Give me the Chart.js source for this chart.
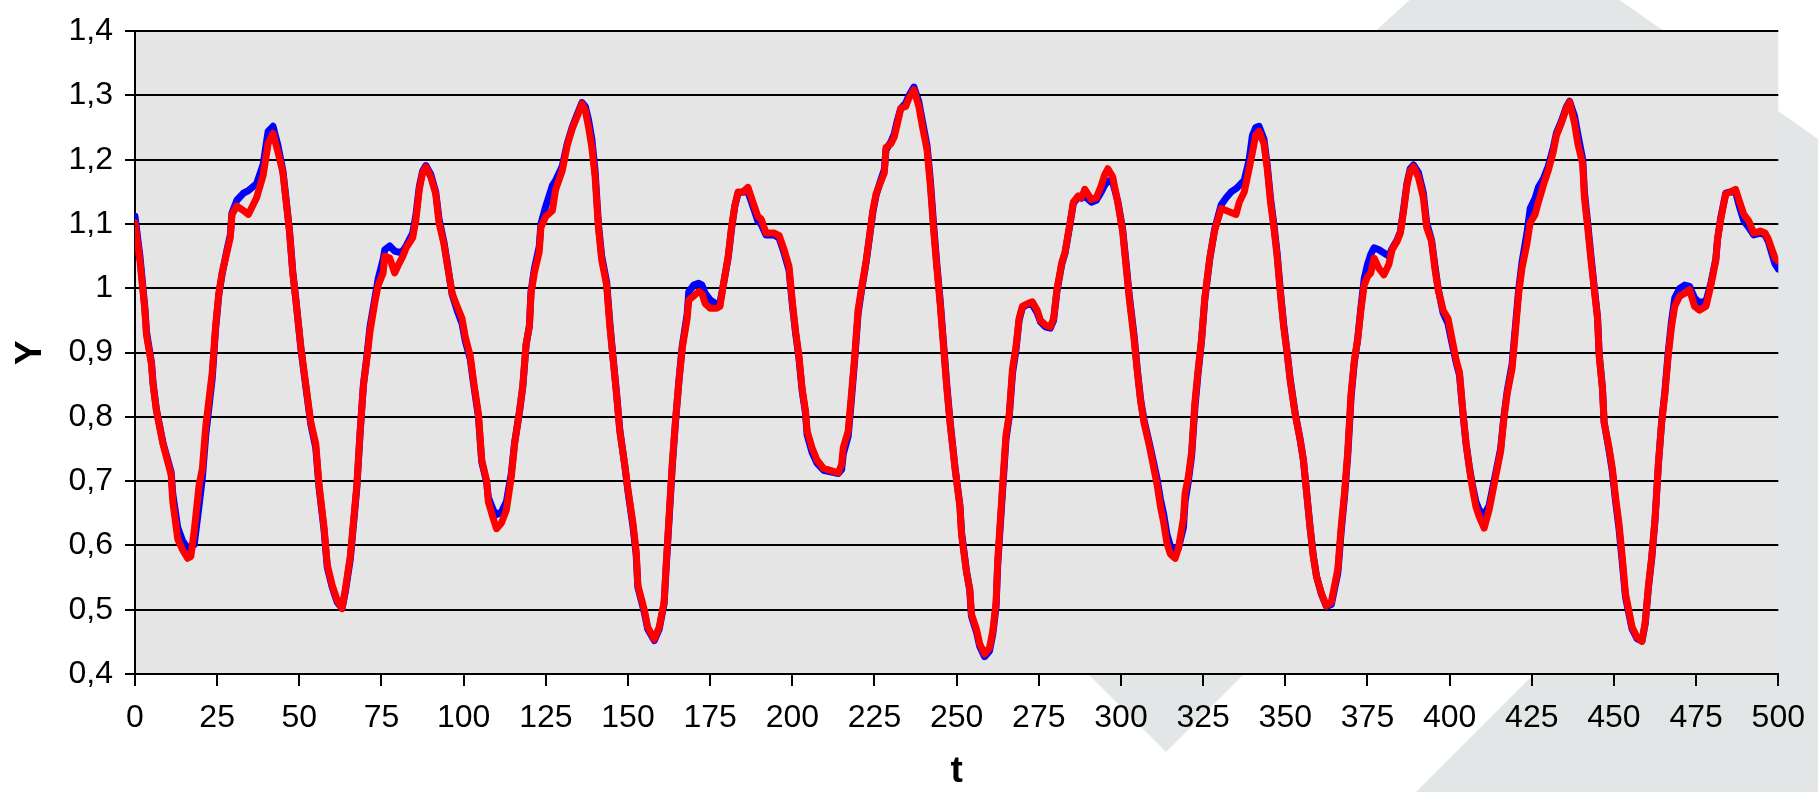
<!DOCTYPE html>
<html>
<head>
<meta charset="utf-8">
<style>
  html, body { margin: 0; padding: 0; background: #ffffff; }
  canvas { display: block; }
</style>
<script src="https://cdn.jsdelivr.net/npm/chart.js@4.4.1/dist/chart.umd.min.js"></script>
</head>
<body>
<canvas id="chart" width="1818" height="792"></canvas>
<script>
// Sample times
const t = [
  0, 1.5, 3, 3.5, 5, 5.5, 6.5, 8.5, 11, 11.5,
  13, 14.5, 16, 17, 18, 19.5, 20.5, 21.5, 23.5, 24.5,
  25.5, 26.5, 28, 29, 29.5, 31, 33, 34.5, 37, 39,
  40.5, 42, 43.5, 45, 46, 47, 48, 49, 50.5, 52,
  53.5, 55, 56, 57.5, 58.5, 60, 61.5, 63, 64, 65.5,
  67.5, 68.5, 69.5, 70.5, 71.5, 73, 74, 75.5, 76, 77.5,
  79, 80.5, 81.5, 82.5, 84.5, 85.5, 86.5, 87.5, 88.5, 90,
  91.5, 92.5, 94, 95, 96.5, 98, 99.5, 100.5, 102, 103,
  104.5, 105.5, 107, 107.5, 109, 110, 111.5, 113, 114.5, 115.5,
  117, 118, 119, 120, 120.5, 121.5, 123, 123.5, 125, 127,
  128, 130, 131.5, 133, 134.5, 136, 137, 138, 139, 140,
  141, 142, 143.5, 144.5, 145.5, 146.5, 147.5, 149, 150, 151.5,
  152.5, 153, 155, 156, 158, 159.5, 161, 161.5, 162.5, 163.5,
  164.5, 165.5, 166.5, 168, 168.5, 170, 171.5, 172.5, 173.5, 175,
  177, 178, 179, 180.5, 181.5, 182.5, 183.5, 185, 186.5, 188,
  189.5, 190.5, 192, 194.5, 196, 197.5, 199, 200, 201, 202,
  203, 204, 204.5, 206, 207.5, 209.5, 212, 214, 215, 215.5,
  217, 218, 219, 220, 221, 222.5, 223.5, 224.5, 225.5, 227,
  228, 228.5, 230, 231, 232, 233, 234.5, 235.5, 237, 238.5,
  239.5, 241, 242, 243, 244, 245, 246, 247, 248, 249.5,
  251, 251.5, 253, 254, 254.5, 256, 257, 258.5, 260, 261,
  262, 262.5, 263.5, 264.5, 265, 266, 267, 268, 269, 270,
  271.5, 273, 274.5, 275.5, 277, 278.5, 279.5, 280.5, 282, 283,
  284.5, 285.5, 287, 288, 289, 289.5, 291, 292.5, 294, 295,
  296, 297.5, 299, 300.5, 301.5, 302.5, 304, 305, 306, 307,
  308.5, 310, 311, 312, 313, 314, 315, 316.5, 317.5, 319,
  319.5, 320.5, 321.5, 322.5, 323.5, 324.5, 325.5, 327, 328.5, 330.5,
  332, 333.5, 335, 336, 337.5, 339, 340, 341, 342, 343.5,
  344.5, 345.5, 346.5, 347.5, 348.5, 349.5, 350.5, 351.5, 353, 354.5,
  355.5, 356.5, 357.5, 358.5, 359.5, 361, 362.5, 364, 366, 367,
  368, 369, 370, 371, 372, 373, 374, 375, 376, 377,
  378.5, 380, 381.5, 382.5, 384, 385, 386, 387, 388, 389,
  390.5, 392, 393, 394.5, 395.5, 396.5, 398, 399.5, 400.5, 402,
  403, 404, 405, 406, 407, 408, 409, 410.5, 412, 414,
  415.5, 416.5, 417.5, 419, 420, 421, 422, 423.5, 424.5, 426,
  427, 428.5, 430, 431.5, 432.5, 434, 435.5, 436.5, 438, 439,
  440.5, 441, 442, 443, 444, 445, 445.5, 446.5, 447, 448.5,
  449.5, 450.5, 451.5, 452.5, 453.5, 454.5, 455.5, 457, 458.5, 459.5,
  460.5, 461.5, 462.5, 463.5, 464.5, 465.5, 466.5, 467.5, 468.5, 470,
  471.5, 473, 474.5, 476, 478, 479.5, 481, 481.5, 482.5, 484,
  485.5, 487, 488, 489.5, 491, 492.5, 494.5, 496, 497, 499, 500
];

// Y values, blue series
const seriesBlue = [
  1.112, 1.050, 0.970, 0.932, 0.885, 0.853, 0.812, 0.760, 0.714, 0.680,
  0.628, 0.607, 0.596, 0.598, 0.601, 0.662, 0.705, 0.770, 0.860, 0.935,
  0.990, 1.022, 1.060, 1.083, 1.117, 1.137, 1.148, 1.152, 1.163, 1.193,
  1.244, 1.252, 1.222, 1.183, 1.137, 1.090, 1.026, 0.980, 0.905, 0.846,
  0.788, 0.752, 0.690, 0.625, 0.566, 0.535, 0.512, 0.502, 0.528, 0.578,
  0.690, 0.775, 0.850, 0.892, 0.940, 0.985, 1.015, 1.045, 1.060, 1.066,
  1.058, 1.056, 1.058, 1.066, 1.086, 1.115, 1.158, 1.182, 1.191, 1.177,
  1.150, 1.108, 1.072, 1.040, 0.990, 0.966, 0.945, 0.918, 0.890, 0.852,
  0.800, 0.730, 0.698, 0.675, 0.655, 0.648, 0.652, 0.668, 0.712, 0.760,
  0.808, 0.847, 0.912, 0.942, 0.995, 1.030, 1.065, 1.100, 1.128, 1.160,
  1.168, 1.190, 1.225, 1.250, 1.270, 1.289, 1.283, 1.262, 1.232, 1.182,
  1.100, 1.050, 1.010, 0.945, 0.890, 0.838, 0.780, 0.725, 0.684, 0.630,
  0.585, 0.535, 0.495, 0.470, 0.452, 0.470, 0.510, 0.555, 0.640, 0.725,
  0.795, 0.856, 0.910, 0.960, 0.995, 1.005, 1.008, 1.005, 0.992, 0.982,
  0.975, 0.978, 1.005, 1.048, 1.092, 1.128, 1.148, 1.150, 1.150, 1.128,
  1.105, 1.100, 1.083, 1.083, 1.078, 1.055, 1.028, 0.975, 0.930, 0.892,
  0.840, 0.806, 0.772, 0.745, 0.728, 0.717, 0.714, 0.712, 0.718, 0.742,
  0.770, 0.828, 0.890, 0.960, 0.995, 1.042, 1.080, 1.118, 1.145, 1.170,
  1.185, 1.215, 1.228, 1.240, 1.262, 1.280, 1.288, 1.300, 1.313, 1.290,
  1.262, 1.222, 1.168, 1.098, 1.036, 0.980, 0.915, 0.850, 0.793, 0.722,
  0.662, 0.620, 0.560, 0.530, 0.490, 0.466, 0.443, 0.427, 0.436, 0.462,
  0.505, 0.570, 0.648, 0.725, 0.765, 0.800, 0.868, 0.902, 0.950, 0.970,
  0.975, 0.975, 0.962, 0.948, 0.940, 0.938, 0.950, 0.995, 1.038, 1.055,
  1.100, 1.132, 1.142, 1.140, 1.143, 1.141, 1.134, 1.137, 1.150, 1.160,
  1.167, 1.165, 1.136, 1.092, 1.042, 0.990, 0.926, 0.872, 0.826, 0.795,
  0.762, 0.727, 0.703, 0.672, 0.648, 0.617, 0.600, 0.590, 0.596, 0.628,
  0.668, 0.700, 0.740, 0.815, 0.870, 0.918, 0.982, 1.045, 1.092, 1.130,
  1.141, 1.150, 1.155, 1.160, 1.168, 1.200, 1.238, 1.250, 1.252, 1.232,
  1.192, 1.140, 1.100, 1.055, 0.996, 0.944, 0.903, 0.858, 0.806, 0.765,
  0.733, 0.682, 0.630, 0.585, 0.552, 0.524, 0.505, 0.508, 0.558, 0.622,
  0.675, 0.740, 0.830, 0.885, 0.920, 0.970, 1.015, 1.037, 1.053, 1.063,
  1.060, 1.055, 1.050, 1.062, 1.075, 1.088, 1.124, 1.163, 1.186, 1.192,
  1.180, 1.148, 1.102, 1.075, 1.036, 1.000, 0.962, 0.945, 0.920, 0.884,
  0.865, 0.808, 0.758, 0.722, 0.692, 0.668, 0.655, 0.648, 0.662, 0.712,
  0.750, 0.800, 0.840, 0.882, 0.940, 0.998, 1.040, 1.085, 1.124, 1.140,
  1.157, 1.170, 1.190, 1.218, 1.242, 1.260, 1.282, 1.291, 1.268, 1.240,
  1.200, 1.150, 1.102, 1.050, 1.002, 0.955, 0.898, 0.845, 0.792, 0.748,
  0.715, 0.668, 0.628, 0.575, 0.520, 0.495, 0.470, 0.455, 0.451, 0.478,
  0.535, 0.580, 0.640, 0.725, 0.792, 0.840, 0.900, 0.948, 0.985, 1.000,
  1.005, 1.003, 0.985, 0.978, 0.980, 1.008, 1.046, 1.076, 1.110, 1.148,
  1.150, 1.150, 1.130, 1.105, 1.095, 1.083, 1.086, 1.083, 1.072, 1.038, 1.030
];

// Y values, red series
const seriesRed = [
  1.102, 1.043, 0.966, 0.927, 0.882, 0.850, 0.810, 0.758, 0.710, 0.668,
  0.610, 0.593, 0.580, 0.583, 0.622, 0.694, 0.720, 0.784, 0.869, 0.940,
  0.992, 1.024, 1.057, 1.079, 1.115, 1.128, 1.121, 1.115, 1.141, 1.176,
  1.225, 1.241, 1.212, 1.180, 1.134, 1.089, 1.024, 0.979, 0.907, 0.849,
  0.791, 0.758, 0.694, 0.629, 0.570, 0.538, 0.515, 0.502, 0.532, 0.583,
  0.694, 0.778, 0.849, 0.888, 0.933, 0.979, 1.005, 1.024, 1.050, 1.047,
  1.024, 1.040, 1.050, 1.063, 1.079, 1.108, 1.154, 1.180, 1.189, 1.173,
  1.147, 1.102, 1.069, 1.037, 0.992, 0.972, 0.953, 0.924, 0.895, 0.856,
  0.804, 0.733, 0.700, 0.668, 0.642, 0.626, 0.635, 0.655, 0.707, 0.758,
  0.810, 0.849, 0.914, 0.940, 0.992, 1.024, 1.057, 1.095, 1.112, 1.121,
  1.154, 1.183, 1.222, 1.248, 1.267, 1.287, 1.277, 1.251, 1.219, 1.173,
  1.095, 1.044, 1.005, 0.940, 0.888, 0.836, 0.778, 0.726, 0.687, 0.635,
  0.590, 0.538, 0.499, 0.473, 0.454, 0.473, 0.512, 0.560, 0.645, 0.730,
  0.797, 0.856, 0.907, 0.953, 0.982, 0.988, 0.995, 0.992, 0.976, 0.969,
  0.969, 0.972, 1.005, 1.050, 1.095, 1.128, 1.150, 1.150, 1.157, 1.134,
  1.112, 1.108, 1.086, 1.086, 1.082, 1.060, 1.034, 0.979, 0.933, 0.895,
  0.843, 0.810, 0.778, 0.752, 0.733, 0.720, 0.716, 0.713, 0.726, 0.752,
  0.778, 0.836, 0.895, 0.966, 0.998, 1.044, 1.082, 1.121, 1.147, 1.167,
  1.180, 1.219, 1.225, 1.235, 1.257, 1.280, 1.283, 1.296, 1.309, 1.283,
  1.254, 1.215, 1.160, 1.090, 1.030, 0.975, 0.910, 0.845, 0.790, 0.720,
  0.660, 0.616, 0.558, 0.532, 0.493, 0.470, 0.447, 0.431, 0.441, 0.467,
  0.512, 0.577, 0.655, 0.733, 0.771, 0.804, 0.875, 0.907, 0.953, 0.972,
  0.976, 0.979, 0.966, 0.950, 0.943, 0.940, 0.953, 0.998, 1.040, 1.057,
  1.102, 1.134, 1.144, 1.141, 1.154, 1.150, 1.138, 1.141, 1.160, 1.176,
  1.186, 1.173, 1.134, 1.089, 1.037, 0.985, 0.920, 0.869, 0.823, 0.791,
  0.758, 0.720, 0.694, 0.661, 0.635, 0.603, 0.587, 0.580, 0.596, 0.642,
  0.681, 0.707, 0.746, 0.823, 0.875, 0.920, 0.985, 1.047, 1.090, 1.124,
  1.121, 1.118, 1.115, 1.134, 1.150, 1.186, 1.212, 1.238, 1.244, 1.225,
  1.186, 1.134, 1.095, 1.050, 0.992, 0.940, 0.901, 0.856, 0.804, 0.765,
  0.733, 0.681, 0.629, 0.583, 0.551, 0.525, 0.506, 0.512, 0.564, 0.629,
  0.681, 0.746, 0.836, 0.888, 0.920, 0.966, 1.005, 1.018, 1.024, 1.047,
  1.031, 1.021, 1.037, 1.060, 1.073, 1.086, 1.121, 1.160, 1.183, 1.189,
  1.173, 1.141, 1.095, 1.073, 1.031, 0.998, 0.966, 0.953, 0.927, 0.888,
  0.869, 0.810, 0.758, 0.720, 0.687, 0.660, 0.645, 0.627, 0.655, 0.707,
  0.746, 0.797, 0.836, 0.875, 0.933, 0.992, 1.031, 1.069, 1.102, 1.115,
  1.134, 1.160, 1.183, 1.212, 1.238, 1.257, 1.280, 1.290, 1.257, 1.225,
  1.193, 1.141, 1.095, 1.044, 0.998, 0.953, 0.895, 0.843, 0.791, 0.752,
  0.720, 0.674, 0.635, 0.583, 0.525, 0.499, 0.473, 0.457, 0.451, 0.480,
  0.538, 0.583, 0.642, 0.726, 0.791, 0.836, 0.895, 0.940, 0.972, 0.988,
  0.992, 0.998, 0.972, 0.966, 0.972, 1.005, 1.044, 1.076, 1.108, 1.147,
  1.150, 1.154, 1.138, 1.115, 1.105, 1.086, 1.089, 1.086, 1.076, 1.047, 1.042
];

const xTickLabels = ['0', '25', '50', '75', '100', '125', '150', '175', '200', '225', '250',
                     '275', '300', '325', '350', '375', '400', '425', '450', '475', '500'];
const yTickLabels = ['0,4', '0,5', '0,6', '0,7', '0,8', '0,9', '1', '1,1', '1,2', '1,3', '1,4'];

const FONT = "'Liberation Sans', Arial, Helvetica, sans-serif";

function fillPolygon(ctx, pts) {
  ctx.beginPath();
  ctx.moveTo(pts[0][0], pts[0][1]);
  for (let i = 1; i < pts.length; i++) ctx.lineTo(pts[i][0], pts[i][1]);
  ctx.closePath();
  ctx.fill();
}

// Page background, pale diagonal logo shapes and the grey plot panel
const backdrop = {
  id: 'backdrop',
  beforeDraw(chart) {
    const { ctx, chartArea: a, width, height } = chart;
    ctx.save();
    ctx.fillStyle = '#ffffff';
    ctx.fillRect(0, 0, width, height);
    ctx.fillStyle = 'rgb(227,230,230)';
    fillPolygon(ctx, [[888, 474], [1501, -83], [4501, 2017], [2888, 2474]]);
    ctx.fillStyle = '#ffffff';
    fillPolygon(ctx, [[1629, 289], [1774, 434], [-226, 2434], [-371, 2289]]);
    ctx.fillStyle = '#e5e5e5';
    ctx.fillRect(a.left, a.top, a.right - a.left, a.bottom - a.top);
    ctx.restore();
  }
};

const toPoints = (values) => t.map((x, i) => ({ x: x, y: values[i] }));

new Chart(document.getElementById('chart'), {
  type: 'line',
  data: {
    datasets: [
      {
        label: 'Y2',
        data: toPoints(seriesRed),
        borderColor: '#ff0000',
        borderWidth: 7,
        pointRadius: 0,
        tension: 0,
        fill: false,
        borderJoinStyle: 'round',
        borderCapStyle: 'round',
        order: 0
      },
      {
        label: 'Y1',
        data: toPoints(seriesBlue),
        borderColor: '#0000ff',
        borderWidth: 7,
        pointRadius: 0,
        tension: 0,
        fill: false,
        borderJoinStyle: 'round',
        borderCapStyle: 'round',
        order: 1
      }
    ]
  },
  options: {
    responsive: false,
    devicePixelRatio: 1,
    animation: false,
    events: [],
    layout: { padding: { top: 24, right: 35, bottom: 0, left: 0 } },
    plugins: {
      legend: { display: false },
      tooltip: { enabled: false }
    },
    scales: {
      x: {
        type: 'linear',
        min: 0,
        max: 500,
        afterFit: (s) => { s.height = 118; },
        ticks: {
          stepSize: 25,
          autoSkip: false,
          maxRotation: 0,
          padding: 13,
          color: '#000',
          font: { family: FONT, size: 32 },
          callback: (v, i) => xTickLabels[i]
        },
        grid: {
          drawOnChartArea: false,
          drawTicks: true,
          tickLength: 12,
          color: '#000',
          lineWidth: 2
        },
        border: { display: true, color: '#000', width: 2 },
        title: {
          display: true,
          text: 't',
          color: '#000',
          font: { family: FONT, size: 37, weight: 'bold', lineHeight: 1.1 },
          padding: { top: 0, bottom: 0 }
        }
      },
      y: {
        min: 0.4,
        max: 1.4,
        afterFit: (s) => { s.width = 135; },
        ticks: {
          stepSize: 0.1,
          padding: 12,
          color: '#000',
          font: { family: FONT, size: 32 },
          callback: (v, i) => yTickLabels[i]
        },
        grid: {
          drawOnChartArea: true,
          drawTicks: true,
          tickLength: 10,
          color: '#000',
          lineWidth: 2
        },
        border: { display: true, color: '#000', width: 2 },
        title: {
          display: true,
          text: 'Y',
          color: '#000',
          font: { family: FONT, size: 37, weight: 'bold', lineHeight: 1.1 },
          padding: { top: 10, bottom: 0 }
        }
      }
    }
  },
  plugins: [backdrop]
});
</script>
</body>
</html>
